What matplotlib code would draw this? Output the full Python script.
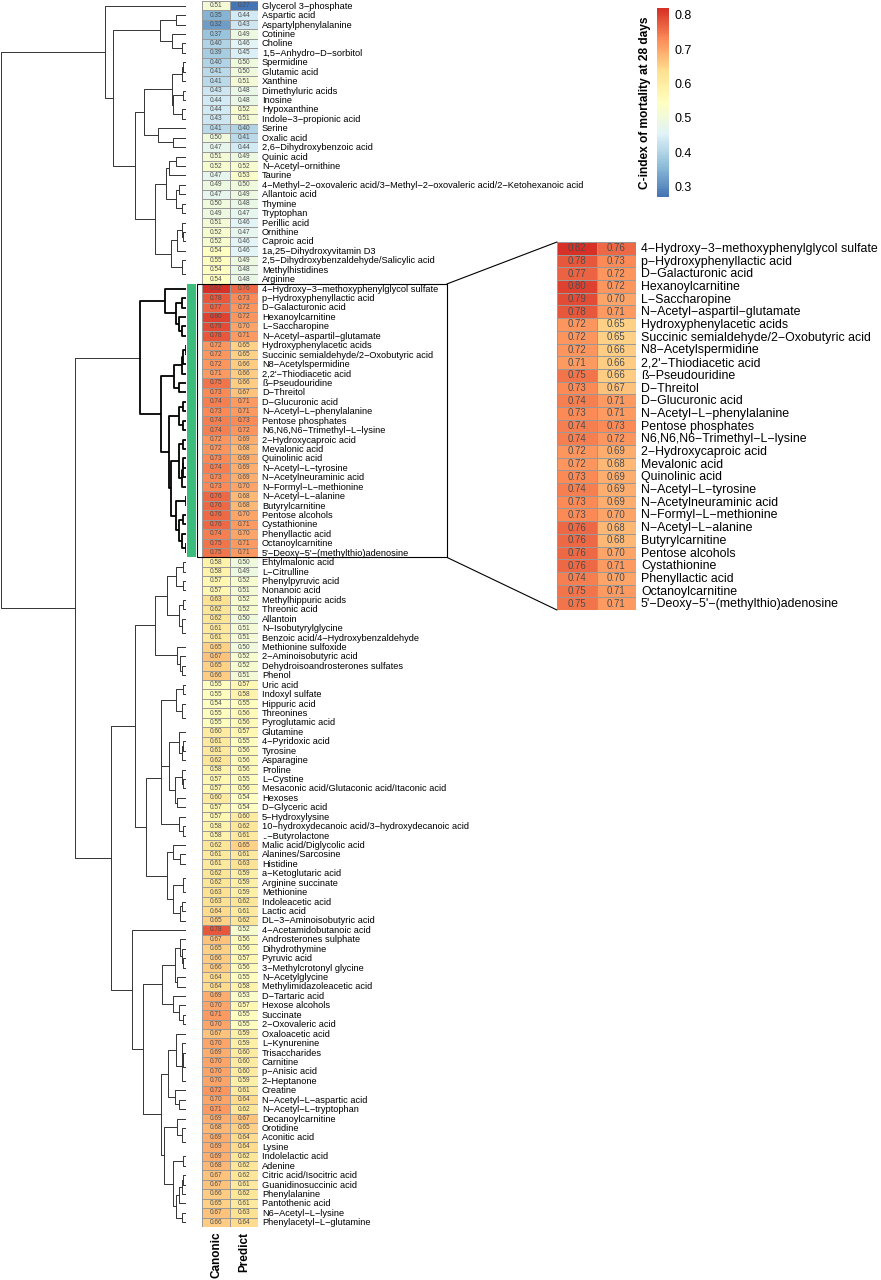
import numpy as np
import matplotlib
matplotlib.use('Agg')
import matplotlib.pyplot as plt
from matplotlib.colors import LinearSegmentedColormap, Normalize
from matplotlib.collections import LineCollection
from matplotlib.patches import Rectangle, ConnectionPatch
import matplotlib.cm as cm

plt.rcParams['font.family'] = ['Liberation Sans', 'DejaVu Sans']

# ---------------- data ----------------
metabolites = [
    "Glycerol 3-phosphate", "Aspartic acid", "Aspartylphenylalanine", "Cotinine", "Choline",
    "1,5-Anhydro-D-sorbitol", "Spermidine", "Glutamic acid", "Xanthine", "Dimethyluric acids",
    "Inosine", "Hypoxanthine", "Indole-3-propionic acid", "Serine", "Oxalic acid",
    "2,6-Dihydroxybenzoic acid", "Quinic acid", "N-Acetyl-ornithine", "Taurine",
    "4-Methyl-2-oxovaleric acid/3-Methyl-2-oxovaleric acid/2-Ketohexanoic acid",
    "Allantoic acid", "Thymine", "Tryptophan", "Perillic acid", "Ornithine", "Caproic acid",
    "1a,25-Dihydroxyvitamin D3", "2,5-Dihydroxybenzaldehyde/Salicylic acid", "Methylhistidines",
    "Arginine",
    "4-Hydroxy-3-methoxyphenylglycol sulfate", "p-Hydroxyphenyllactic acid", "D-Galacturonic acid",
    "Hexanoylcarnitine", "L-Saccharopine", "N-Acetyl-aspartil-glutamate", "Hydroxyphenylacetic acids",
    "Succinic semialdehyde/2-Oxobutyric acid", "N8-Acetylspermidine", "2,2'-Thiodiacetic acid",
    "\u00df-Pseudouridine", "D-Threitol", "D-Glucuronic acid", "N-Acetyl-L-phenylalanine",
    "Pentose phosphates", "N6,N6,N6-Trimethyl-L-lysine", "2-Hydroxycaproic acid", "Mevalonic acid",
    "Quinolinic acid", "N-Acetyl-L-tyrosine", "N-Acetylneuraminic acid", "N-Formyl-L-methionine",
    "N-Acetyl-L-alanine", "Butyrylcarnitine", "Pentose alcohols", "Cystathionine",
    "Phenyllactic acid", "Octanoylcarnitine", "5'-Deoxy-5'-(methylthio)adenosine",
    "Ehtylmalonic acid", "L-Citrulline", "Phenylpyruvic acid", "Nonanoic acid", "Methylhippuric acids",
    "Threonic acid", "Allantoin", "N-Isobutyrylglycine", "Benzoic acid/4-Hydroxybenzaldehyde",
    "Methionine sulfoxide", "2-Aminoisobutyric acid", "Dehydroisoandrosterones sulfates", "Phenol",
    "Uric acid", "Indoxyl sulfate", "Hippuric acid", "Threonines", "Pyroglutamic acid", "Glutamine",
    "4-Pyridoxic acid", "Tyrosine", "Asparagine", "Proline", "L-Cystine",
    "Mesaconic acid/Glutaconic acid/Itaconic acid", "Hexoses", "D-Glyceric acid", "5-Hydroxylysine",
    "10-hydroxydecanoic acid/3-hydroxydecanoic acid", "..-Butyrolactone", "Malic acid/Diglycolic acid",
    "Alanines/Sarcosine", "Histidine", "a-Ketoglutaric acid", "Arginine succinate", "Methionine",
    "Indoleacetic acid", "Lactic acid", "DL-3-Aminoisobutyric acid", "4-Acetamidobutanoic acid",
    "Androsterones sulphate", "Dihydrothymine", "Pyruvic acid", "3-Methylcrotonyl glycine",
    "N-Acetylglycine", "Methylimidazoleacetic acid", "D-Tartaric acid", "Hexose alcohols",
    "Succinate", "2-Oxovaleric acid", "Oxaloacetic acid", "L-Kynurenine", "Trisaccharides",
    "Carnitine", "p-Anisic acid", "2-Heptanone", "Creatine", "N-Acetyl-L-aspartic acid",
    "N-Acetyl-L-tryptophan", "Decanoylcarnitine", "Orotidine", "Aconitic acid", "Lysine",
    "Indolelactic acid", "Adenine", "Citric acid/Isocitric acid", "Guanidinosuccinic acid",
    "Phenylalanine", "Pantothenic acid", "N6-Acetyl-L-lysine", "Phenylacetyl-L-glutamine",
]

canonic = [
    0.51, 0.35, 0.32, 0.37, 0.40, 0.39, 0.40, 0.41, 0.41, 0.43,
    0.44, 0.44, 0.43, 0.41, 0.50, 0.47, 0.51, 0.52, 0.47, 0.49,
    0.47, 0.50, 0.49, 0.51, 0.52, 0.52, 0.54, 0.55, 0.54, 0.54,
    0.82, 0.78, 0.77, 0.80, 0.79, 0.78, 0.72, 0.72, 0.72, 0.71,
    0.75, 0.73, 0.74, 0.73, 0.74, 0.74, 0.72, 0.72, 0.73, 0.74,
    0.73, 0.73, 0.76, 0.76, 0.76, 0.76, 0.74, 0.75, 0.75,
    0.58, 0.58, 0.57, 0.57, 0.63, 0.62, 0.62, 0.61, 0.61, 0.65,
    0.67, 0.65, 0.66, 0.55, 0.55, 0.54, 0.55, 0.55, 0.60, 0.61,
    0.61, 0.62, 0.58, 0.57, 0.57, 0.60, 0.57, 0.57, 0.58, 0.58,
    0.62, 0.61, 0.61, 0.62, 0.62, 0.63, 0.63, 0.64, 0.65, 0.78,
    0.67, 0.65, 0.66, 0.66, 0.64, 0.64, 0.69, 0.70, 0.71, 0.70,
    0.67, 0.70, 0.69, 0.70, 0.70, 0.70, 0.72, 0.70, 0.71, 0.69,
    0.68, 0.69, 0.69, 0.69, 0.68, 0.67, 0.67, 0.66, 0.65, 0.67,
    0.66,
]

predict = [
    0.27, 0.44, 0.43, 0.49, 0.46, 0.45, 0.50, 0.50, 0.51, 0.48,
    0.48, 0.52, 0.51, 0.40, 0.41, 0.44, 0.49, 0.52, 0.53, 0.50,
    0.49, 0.48, 0.47, 0.46, 0.47, 0.46, 0.46, 0.49, 0.48, 0.48,
    0.76, 0.73, 0.72, 0.72, 0.70, 0.71, 0.65, 0.65, 0.66, 0.66,
    0.66, 0.67, 0.71, 0.71, 0.73, 0.72, 0.69, 0.68, 0.69, 0.69,
    0.69, 0.70, 0.68, 0.68, 0.70, 0.71, 0.70, 0.71, 0.71,
    0.50, 0.49, 0.52, 0.51, 0.52, 0.52, 0.50, 0.51, 0.51, 0.50,
    0.52, 0.52, 0.51, 0.57, 0.58, 0.55, 0.56, 0.56, 0.57, 0.55,
    0.56, 0.56, 0.56, 0.55, 0.56, 0.54, 0.54, 0.60, 0.62, 0.61,
    0.65, 0.61, 0.63, 0.59, 0.59, 0.59, 0.62, 0.61, 0.62, 0.52,
    0.56, 0.56, 0.57, 0.56, 0.55, 0.58, 0.53, 0.57, 0.55, 0.55,
    0.59, 0.59, 0.60, 0.60, 0.60, 0.59, 0.61, 0.64, 0.62, 0.67,
    0.65, 0.64, 0.64, 0.62, 0.62, 0.62, 0.61, 0.62, 0.61, 0.63,
    0.64,
]

columns = ["Canonic", "Predict"]

highlighted = [
    "4-Hydroxy-3-methoxyphenylglycol sulfate", "p-Hydroxyphenyllactic acid", "D-Galacturonic acid",
    "Hexanoylcarnitine", "L-Saccharopine", "N-Acetyl-aspartil-glutamate", "Hydroxyphenylacetic acids",
    "Succinic semialdehyde/2-Oxobutyric acid", "N8-Acetylspermidine", "2,2'-Thiodiacetic acid",
    "\u00df-Pseudouridine", "D-Threitol", "D-Glucuronic acid", "N-Acetyl-L-phenylalanine",
    "Pentose phosphates", "N6,N6,N6-Trimethyl-L-lysine", "2-Hydroxycaproic acid", "Mevalonic acid",
    "Quinolinic acid", "N-Acetyl-L-tyrosine", "N-Acetylneuraminic acid", "N-Formyl-L-methionine",
    "N-Acetyl-L-alanine", "Butyrylcarnitine", "Pentose alcohols", "Cystathionine",
    "Phenyllactic acid", "Octanoylcarnitine", "5'-Deoxy-5'-(methylthio)adenosine",
]

# ---------------- setup ----------------
W, H = 881, 1280
fig = plt.figure(figsize=(W / 100, H / 100), dpi=100)


def px_axes(x0, y0, x1, y1):
    return fig.add_axes([x0 / W, 1 - y1 / H, (x1 - x0) / W, (y1 - y0) / H])


def disp(s):
    return s.replace('-', '\u2212')


vals = np.column_stack([canonic, predict])
n = len(metabolites)
hl_idx = [metabolites.index(m) for m in highlighted]
hl_start, hl_end = min(hl_idx), max(hl_idx) + 1

pal = ["#4575B4", "#91BFDB", "#E0F3F8", "#FFFFBF", "#FEE090", "#FC8D59", "#D73027"]
cmap = LinearSegmentedColormap.from_list("rdylbu", pal, N=100)
norm = Normalize(vmin=vals.min(), vmax=vals.max())
border = '#999999'
numcol = '#4d4d4d'

# ---------------- clustering (complete linkage, order-constrained) ----------------
clusters = [dict(members=[i], y=i + 0.5, h=0.0) for i in range(n)]
segs, seg_hl = [], []
while len(clusters) > 1:
    best_k, best_d = None, None
    for k in range(len(clusters) - 1):
        A = vals[clusters[k]['members']]
        B = vals[clusters[k + 1]['members']]
        d = np.sqrt(((A[:, None, :] - B[None, :, :]) ** 2).sum(-1)).max()
        if best_d is None or d < best_d - 1e-12:
            best_k, best_d = k, d
    a, b = clusters[best_k], clusters[best_k + 1]
    mem = a['members'] + b['members']
    is_hl = all(hl_start <= mm < hl_end for mm in mem)
    segs.append([(a['h'], a['y']), (best_d, a['y']), (best_d, b['y']), (b['h'], b['y'])])
    seg_hl.append(is_hl)
    clusters[best_k:best_k + 2] = [dict(members=mem, y=(a['y'] + b['y']) / 2, h=best_d)]
Hmax = clusters[0]['h']

ax_d = px_axes(0, 1, 186, 1227)
normal = [s for s, f in zip(segs, seg_hl) if not f]
bold = [s for s, f in zip(segs, seg_hl) if f]
ax_d.add_collection(LineCollection(normal, colors='#333333', linewidths=0.7))
ax_d.add_collection(LineCollection(bold, colors='black', linewidths=1.3))
ax_d.set_xlim(Hmax * 1.006, 0)
ax_d.set_ylim(n, 0)
ax_d.axis('off')

# ---------------- green annotation ----------------
ax_g = px_axes(187, 1, 196, 1227)
ax_g.bar(0.5, hl_end - hl_start, bottom=hl_start, width=1, color='#3dbd7d')
ax_g.set_xlim(0, 1)
ax_g.set_ylim(n, 0)
ax_g.axis('off')

# ---------------- main heatmap ----------------
ax_h = px_axes(202, 1, 258, 1227)
ax_h.pcolormesh(np.arange(3), np.arange(n + 1), vals, cmap=cmap, norm=norm,
                edgecolors=border, linewidth=0.4)
for i in range(n):
    for j in range(2):
        ax_h.text(j + 0.5, i + 0.5, f"{vals[i, j]:.2f}", ha='center', va='center',
                  fontsize=4.7, color=numcol)
    ax_h.text(2 + 4 / 28, i + 0.55, disp(metabolites[i]), ha='left', va='center',
              fontsize=6.7, clip_on=False)
for j, c in enumerate(columns):
    ax_h.text(j + 0.5, n + 0.5, c, rotation=90, ha='center', va='top',
              fontsize=8.5, fontweight='bold')
ax_h.set_xlim(0, 2)
ax_h.set_ylim(n, 0)
ax_h.axis('off')

box_x0 = -5 / 28
box_x1 = (447 - 202) / 28
ax_h.add_patch(Rectangle((box_x0, hl_start), box_x1 - box_x0, hl_end - hl_start,
                         fill=False, edgecolor='black', linewidth=0.8, clip_on=False))

# ---------------- inset ----------------
ax_i = px_axes(557, 242, 636, 610)
sub = vals[hl_start:hl_end]
m = len(sub)
ax_i.pcolormesh(np.arange(3), np.arange(m + 1), sub, cmap=cmap, norm=norm,
                edgecolors=border, linewidth=0.5)
for i in range(m):
    for j in range(2):
        ax_i.text(j + 0.5, i + 0.5, f"{sub[i, j]:.2f}", ha='center', va='center',
                  fontsize=6.9, color=numcol)
    ax_i.text(2 + 5 / 39.5, i + 0.55, disp(metabolites[hl_start + i]), ha='left', va='center',
              fontsize=8.95, clip_on=False)
ax_i.set_xlim(0, 2)
ax_i.set_ylim(m, 0)
ax_i.axis('off')

for ya, yb in [(hl_start, 0), (hl_end, m)]:
    con = ConnectionPatch(xyA=(box_x1, ya), coordsA=ax_h.transData,
                          xyB=(0, yb), coordsB=ax_i.transData,
                          color='black', linewidth=0.8)
    fig.add_artist(con)

# ---------------- colorbar ----------------
cax = px_axes(657, 8, 669, 197)
cb = fig.colorbar(cm.ScalarMappable(norm=norm, cmap=cmap), cax=cax)
cb.set_ticks([0.3, 0.4, 0.5, 0.6, 0.7, 0.8])
cb.outline.set_visible(False)
cax.tick_params(length=0, labelsize=9, pad=4)
fig.text(645 / W, 1 - 103 / H, "C-index of mortality at 28 days", rotation=90,
         ha='center', va='center', fontsize=8.6, fontweight='bold')

fig.savefig("out.png", dpi=100)
